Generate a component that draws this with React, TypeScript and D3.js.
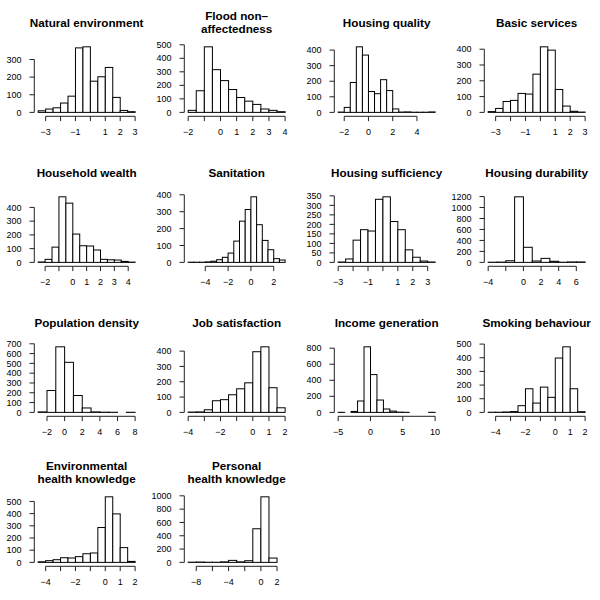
import React from "react";
import * as d3 from "d3";

// ---- Data ----
const titles: string[][] = [
  ["Natural environment"],
  ["Flood non\u2013", "affectedness"],
  ["Housing quality"],
  ["Basic services"],
  ["Household wealth"],
  ["Sanitation"],
  ["Housing sufficiency"],
  ["Housing durability"],
  ["Population density"],
  ["Job satisfaction"],
  ["Income generation"],
  ["Smoking behaviour"],
  ["Environmental", "health knowledge"],
  ["Personal", "health knowledge"],
];

const binStarts = [-3.5, -2, -2.5, -3.5, -2.5, -5.5, -3, -4, -3, -4, -5, -4.5, -4.5, -9];
const binWidths = [0.5, 0.5, 0.5, 0.5, 0.5, 0.5, 0.5, 1, 1, 0.5, 1, 0.5, 0.5, 1];

const naturalEnvironment = [9, 19, 26, 53, 92, 366, 372, 177, 202, 255, 85, 11, 4];
const floodNonAffectedness = [15, 160, 485, 316, 235, 169, 110, 83, 59, 25, 15, 5];
const housingQuality = [2, 32, 192, 421, 368, 134, 120, 210, 140, 22, 2, 3, 1, 1, 1, 3];
const basicServices = [5, 25, 69, 76, 120, 116, 242, 415, 394, 145, 40, 7, 2];
const householdWealth = [3, 22, 111, 477, 431, 206, 121, 119, 90, 22, 19, 17, 7, 2];
const sanitation = [1, 1, 1, 3, 7, 16, 30, 55, 126, 244, 313, 388, 223, 130, 75, 22, 14];
const housingSufficiency = [2, 18, 117, 172, 165, 332, 345, 215, 172, 66, 27, 7, 2];
const housingDurability = [3, 5, 30, 1195, 275, 25, 73, 20, 3, 8, 8];
const populationDensity = [5, 223, 669, 511, 172, 45, 5, 2, 1, 0, 1];
const jobSatisfaction = [2, 3, 17, 76, 83, 115, 154, 193, 396, 428, 161, 30];
const incomeGeneration = [1, 0, 12, 142, 817, 471, 154, 42, 16, 3, 1, 0, 0, 0, 1];
const smokingBehaviour = [1, 1, 3, 6, 49, 173, 68, 185, 110, 398, 480, 173, 5];
const envHealthKnowledge = [5, 14, 22, 38, 36, 47, 71, 77, 286, 538, 398, 121, 8];
const personalHealthKnowledge = [3, 5, 2, 2, 8, 30, 8, 25, 505, 985, 65, 0];

const allCounts = [
  naturalEnvironment, floodNonAffectedness, housingQuality, basicServices,
  householdWealth, sanitation, housingSufficiency, housingDurability,
  populationDensity, jobSatisfaction, incomeGeneration, smokingBehaviour,
  envHealthKnowledge, personalHealthKnowledge,
];

const yTicks: number[][] = [
  [0, 100, 200, 300],
  [0, 100, 200, 300, 400, 500],
  [0, 100, 200, 300, 400],
  [0, 100, 200, 300, 400],
  [0, 100, 200, 300, 400],
  [0, 100, 200, 300, 400],
  [0, 50, 100, 150, 200, 250, 300, 350],
  [0, 200, 400, 600, 800, 1000, 1200],
  [0, 100, 200, 300, 400, 500, 600, 700],
  [0, 100, 200, 300, 400],
  [0, 200, 400, 600, 800],
  [0, 100, 200, 300, 400, 500],
  [0, 100, 200, 300, 400, 500],
  [0, 200, 400, 600, 800, 1000],
];

const xTicks: number[][] = [
  [-3, -2, -1, 0, 1, 2, 3],
  [-2, -1, 0, 1, 2, 3, 4],
  [-2, 0, 2, 4],
  [-3, -2, -1, 0, 1, 2, 3],
  [-2, -1, 0, 1, 2, 3, 4],
  [-4, -2, 0, 2],
  [-3, -2, -1, 0, 1, 2, 3],
  [-4, -2, 0, 2, 4, 6],
  [-2, 0, 2, 4, 6, 8],
  [-4, -3, -2, -1, 0, 1, 2],
  [-5, 0, 5, 10],
  [-4, -3, -2, -1, 0, 1, 2],
  [-4, -3, -2, -1, 0, 1, 2],
  [-8, -6, -4, -2, 0, 2],
];

const xLabels: number[][] = [
  [-3, -1, 1, 2, 3],
  [-2, 0, 1, 2, 3, 4],
  [-2, 0, 2, 4],
  [-3, -1, 1, 2, 3],
  [-2, 0, 1, 2, 3, 4],
  [-4, -2, 0, 2],
  [-3, -1, 1, 2, 3],
  [-4, 0, 2, 4, 6],
  [-2, 0, 2, 4, 6, 8],
  [-4, -2, 0, 1, 2],
  [-5, 0, 5, 10],
  [-4, -2, 0, 1, 2],
  [-4, -2, 0, 1, 2],
  [-8, -4, 0, 2],
];

// ---- Layout ----
const PANEL = 150;
const PL = 34.3;
const PR = 139;
const PT = 44.2;
const PB = 115;
const AXIS_Y = 116.3;
const TICK = 4.8;
const FONT = "'Liberation Sans', Arial, Helvetica, sans-serif";
const fmt = (v: number) => (v < 0 ? "\u2212" + Math.abs(v) : String(v));

function Panel({ i }: { i: number }) {
  const counts = allCounts[i];
  const b0 = binStarts[i];
  const w = binWidths[i];
  const bn = b0 + w * counts.length;
  const ext = 0.04 * (bn - b0);
  const x = d3.scaleLinear().domain([b0 - ext, bn + ext]).range([PL, PR]);
  const maxC = d3.max(counts) as number;
  const y = d3.scaleLinear().domain([-0.04 * maxC, 1.04 * maxC]).range([PB, PT]);
  const col = i % 4;
  const row = Math.floor(i / 4);
  const xt = xTicks[i];
  const yt = yTicks[i];
  const tl = titles[i];
  const cx = (PL + PR) / 2;
  const titleYs = tl.length === 1 ? [26.6] : [19.8, 33.0];
  return (
    <g transform={`translate(${col * PANEL},${row * PANEL})`}>
      {tl.map((t, k) => (
        <text key={k} x={cx} y={titleYs[k]} textAnchor="middle" fontFamily={FONT}
          fontWeight="bold" fontSize={11.7} fill="#000">{t}</text>
      ))}
      {counts.map((c, k) => {
        const xa = x(b0 + k * w);
        const xb = x(b0 + (k + 1) * w);
        return (
          <rect key={k} x={xa} y={y(c)} width={xb - xa} height={y(0) - y(c)}
            fill="#fff" stroke="#000" strokeWidth={1} />
        );
      })}
      {/* y axis */}
      <line x1={PL} x2={PL} y1={y(yt[0])} y2={y(yt[yt.length - 1])} stroke="#222" strokeWidth={1} />
      {yt.map((v) => (
        <g key={v}>
          <line x1={PL - TICK} x2={PL} y1={y(v)} y2={y(v)} stroke="#222" strokeWidth={1} />
          <text x={PL - 12.8} y={y(v)} dy="0.35em" textAnchor="end" fontFamily={FONT}
            fontSize={9} fill="#000">{fmt(v)}</text>
        </g>
      ))}
      {/* x axis */}
      <line x1={x(xt[0])} x2={x(xt[xt.length - 1])} y1={AXIS_Y} y2={AXIS_Y} stroke="#222" strokeWidth={1} />
      {xt.map((v) => (
        <line key={v} x1={x(v)} x2={x(v)} y1={AXIS_Y} y2={AXIS_Y + TICK} stroke="#222" strokeWidth={1} />
      ))}
      {xLabels[i].map((v) => (
        <text key={v} x={x(v)} y={135.3} textAnchor="middle" fontFamily={FONT}
          fontSize={9} fill="#000">{fmt(v)}</text>
      ))}
    </g>
  );
}

export default function App() {
  return (
    <svg width={600} height={600} viewBox="0 0 600 600"
      style={{ position: "absolute", left: 0, top: 0, background: "#fff", display: "block" }}>
      <rect x={0} y={0} width={600} height={600} fill="#fff" />
      {allCounts.map((_, i) => (
        <Panel key={i} i={i} />
      ))}
    </svg>
  );
}
